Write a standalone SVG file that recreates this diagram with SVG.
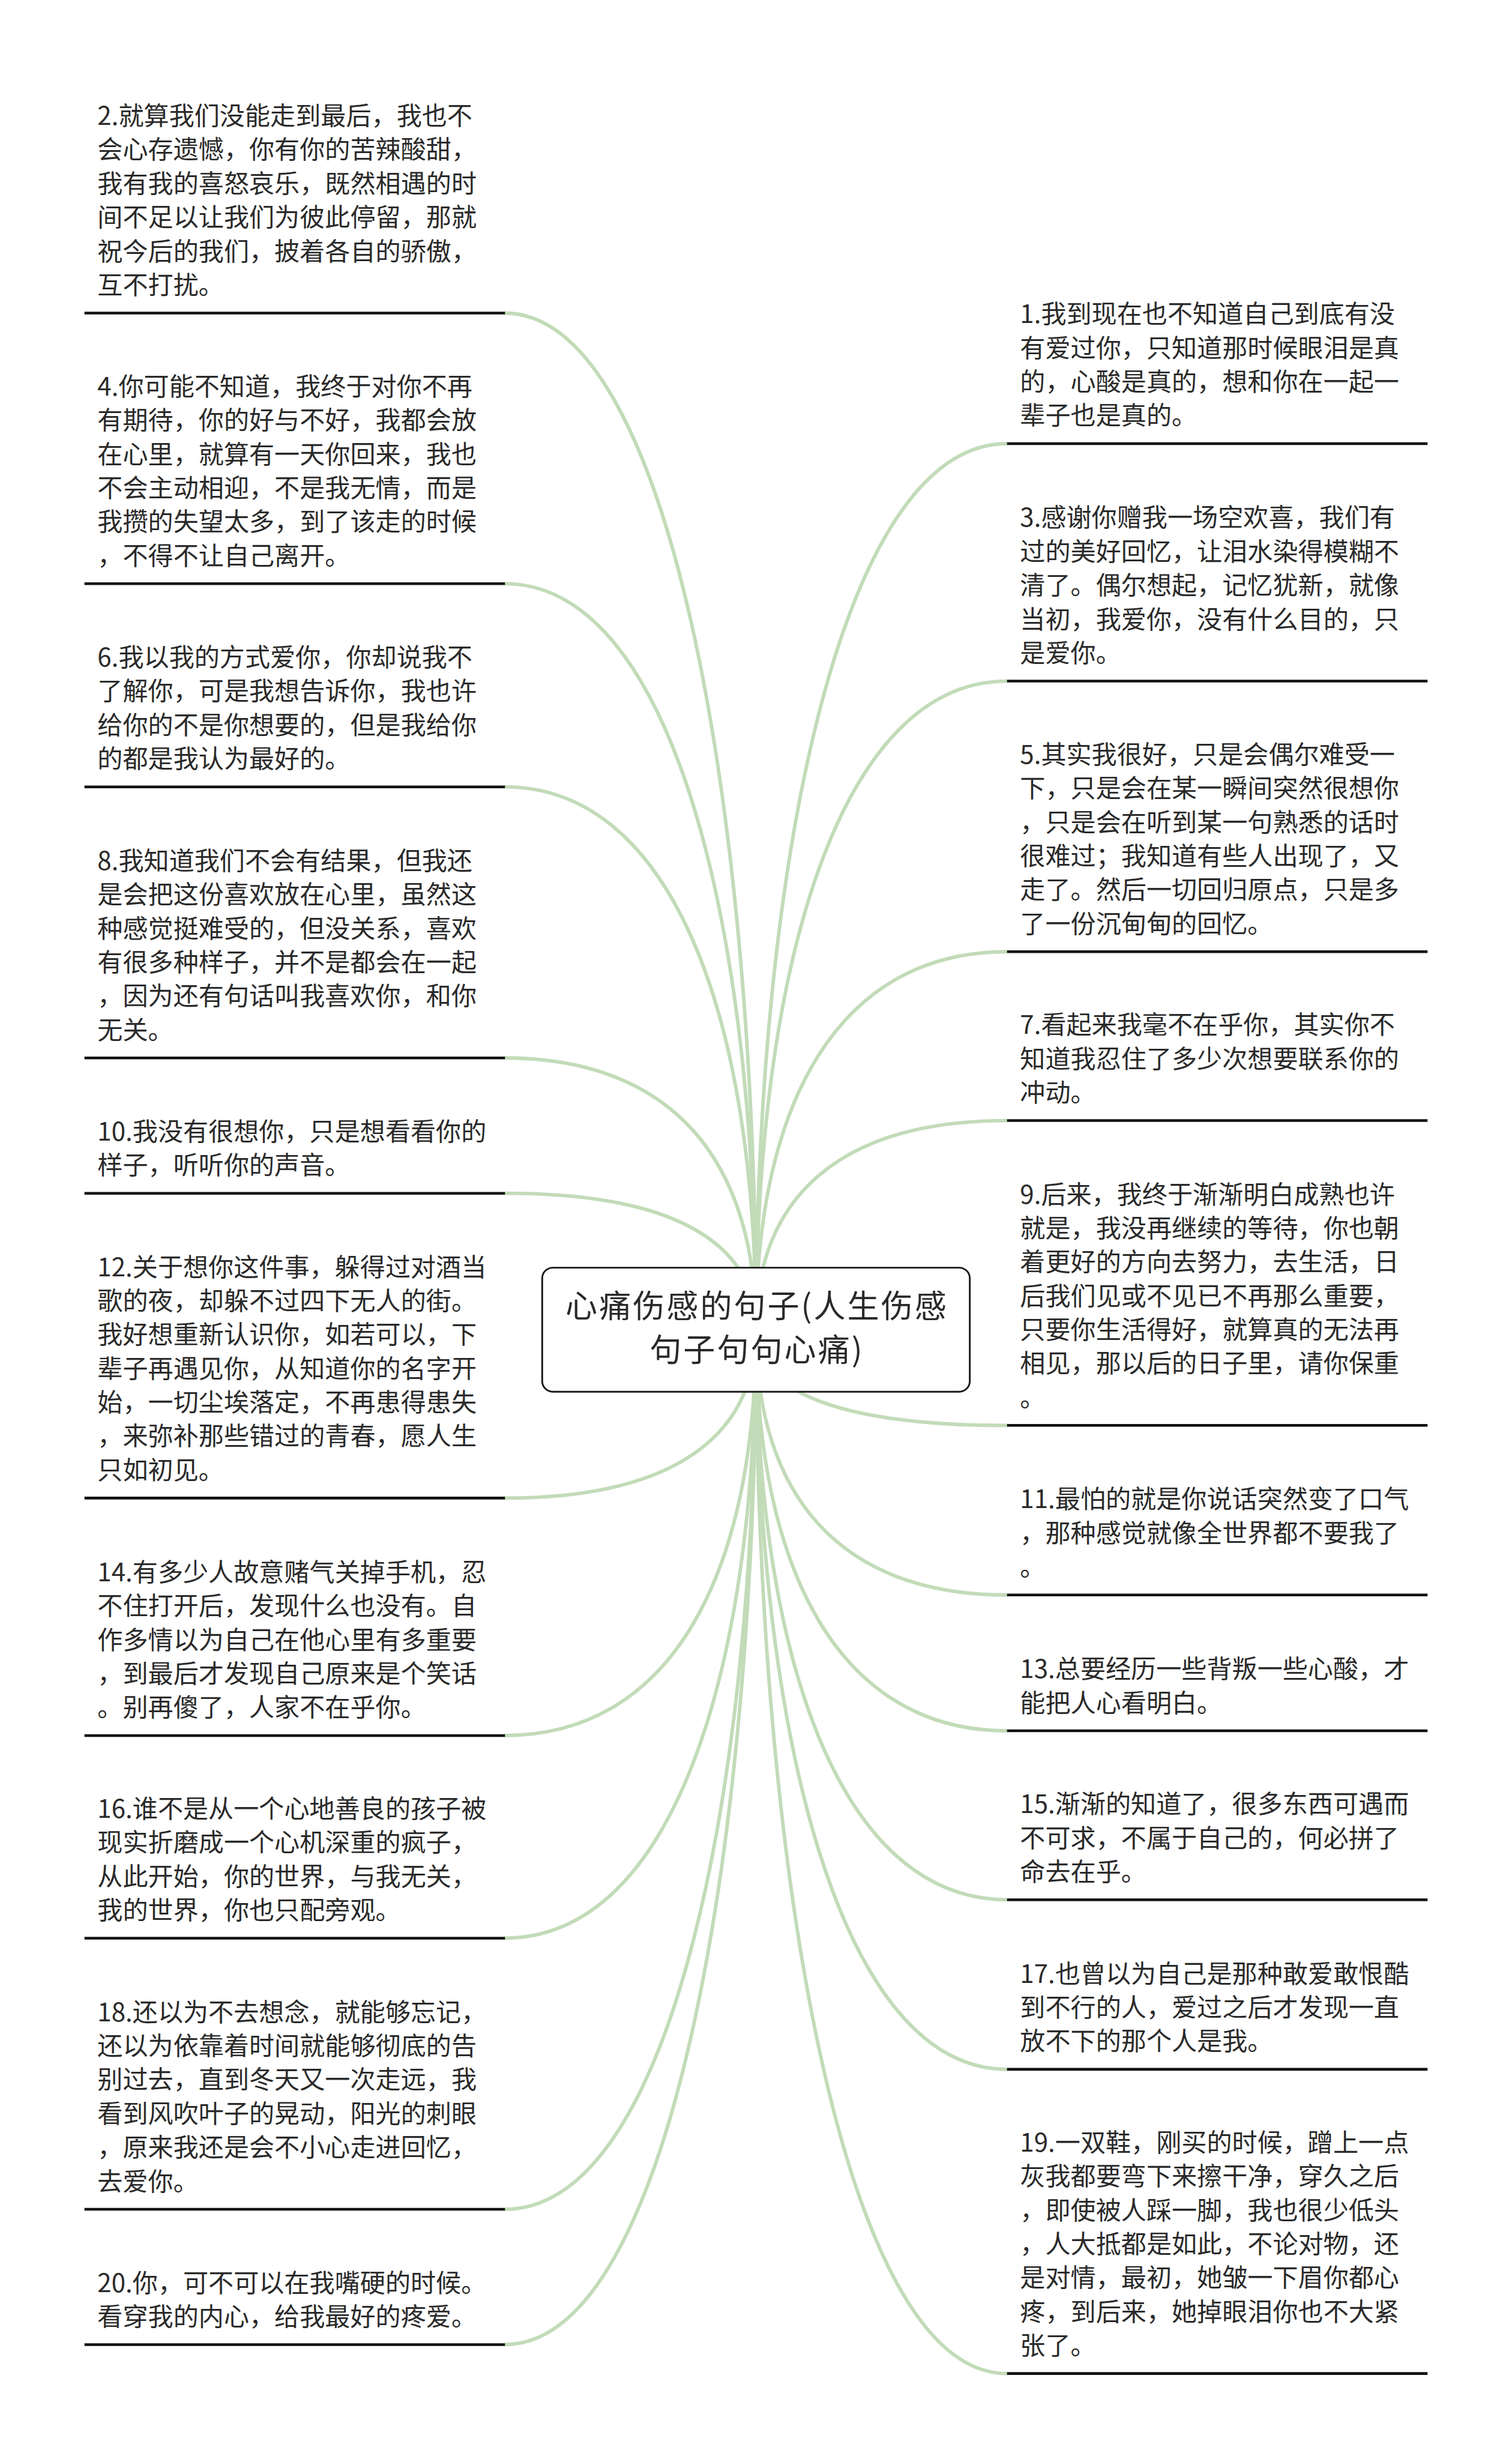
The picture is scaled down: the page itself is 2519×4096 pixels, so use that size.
<svg xmlns="http://www.w3.org/2000/svg" width="2519" height="4096" viewBox="0 0 2519 4096">
<style>
.t{font-family:"Noto Sans CJK SC","Noto Sans",sans-serif;font-size:42.8px;fill:#2a2a2a}
.rt{font-family:"Noto Sans CJK SC","Noto Sans",sans-serif;font-size:54px;letter-spacing:3px;fill:#2a2a2a;text-anchor:middle}
.sep{stroke:#111;stroke-width:4.6;fill:none}
.conn path{stroke:#c2dbb8;stroke-width:6;fill:none;stroke-linecap:butt}
.rootbox{fill:#fff;stroke:#1a1a1a;stroke-width:3}
</style>
<rect x="0" y="0" width="2519" height="4096" fill="#fff"/>
<g transform="scale(0.98398)">
<g id="connectors" class="conn">
<path d="M1280,2251 C1280,1390.5 1138,530 854,530"/>
<path d="M1280,2251 C1280,1565 1138,988 854,988"/>
<path d="M1280,2251 C1280,1721 1138,1332 854,1332"/>
<path d="M1280,2251 C1280,1965 1138,1791 854,1791"/>
<path d="M1280,2251 C1280,2102 1138,2020 854,2020"/>
<path d="M1280,2251 C1280,2433 1138,2536 854,2536"/>
<path d="M1280,2251 C1280,2663 1138,2938 854,2938"/>
<path d="M1280,2251 C1280,2834 1138,3281 854,3281"/>
<path d="M1280,2251 C1280,3027 1138,3740 854,3740"/>
<path d="M1280,2251 C1280,3110 1138,3969 854,3969"/>
<path d="M1280,2251 C1280,1471 1421.7,751 1705,751"/>
<path d="M1280,2251 C1280,1637 1421.7,1153 1705,1153"/>
<path d="M1280,2251 C1280,1864 1421.7,1611 1705,1611"/>
<path d="M1280,2251 C1280,2027 1421.7,1897 1705,1897"/>
<path d="M1280,2251 C1280,2356.5 1421.7,2413 1705,2413"/>
<path d="M1280,2251 C1280,2530.7 1421.7,2700 1705,2700"/>
<path d="M1280,2251 C1280,2658.6 1421.7,2930 1705,2930"/>
<path d="M1280,2251 C1280,2803 1421.7,3216 1705,3216"/>
<path d="M1280,2251 C1280,2932 1421.7,3503 1705,3503"/>
<path d="M1280,2251 C1280,3134.5 1421.7,4018 1705,4018"/>
</g>
<g id="root">
<rect class="rootbox" x="918" y="2146" width="724" height="210" rx="18"/>
<text class="rt" x="1281.5" y="2231"><tspan x="1281.5">心痛伤感的句子(人生伤感</tspan><tspan x="1281.5" dy="74">句子句句心痛)</tspan></text>
</g>
<g id="node-2">
<text class="t" x="165" y="211.5"><tspan x="165">2.就算我们没能走到最后，我也不</tspan><tspan x="165" dy="57.3">会心存遗憾，你有你的苦辣酸甜，</tspan><tspan x="165" dy="57.3">我有我的喜怒哀乐，既然相遇的时</tspan><tspan x="165" dy="57.3">间不足以让我们为彼此停留，那就</tspan><tspan x="165" dy="57.3">祝今后的我们，披着各自的骄傲，</tspan><tspan x="165" dy="57.3">互不打扰。</tspan></text>
<line class="sep" x1="143" y1="530" x2="855" y2="530"/>
</g>
<g id="node-4">
<text class="t" x="165" y="669.5"><tspan x="165">4.你可能不知道，我终于对你不再</tspan><tspan x="165" dy="57.3">有期待，你的好与不好，我都会放</tspan><tspan x="165" dy="57.3">在心里，就算有一天你回来，我也</tspan><tspan x="165" dy="57.3">不会主动相迎，不是我无情，而是</tspan><tspan x="165" dy="57.3">我攒的失望太多，到了该走的时候</tspan><tspan x="165" dy="57.3">，不得不让自己离开。</tspan></text>
<line class="sep" x1="143" y1="988" x2="855" y2="988"/>
</g>
<g id="node-6">
<text class="t" x="165" y="1128.1"><tspan x="165">6.我以我的方式爱你，你却说我不</tspan><tspan x="165" dy="57.3">了解你，可是我想告诉你，我也许</tspan><tspan x="165" dy="57.3">给你的不是你想要的，但是我给你</tspan><tspan x="165" dy="57.3">的都是我认为最好的。</tspan></text>
<line class="sep" x1="143" y1="1332" x2="855" y2="1332"/>
</g>
<g id="node-8">
<text class="t" x="165" y="1472.5"><tspan x="165">8.我知道我们不会有结果，但我还</tspan><tspan x="165" dy="57.3">是会把这份喜欢放在心里，虽然这</tspan><tspan x="165" dy="57.3">种感觉挺难受的，但没关系，喜欢</tspan><tspan x="165" dy="57.3">有很多种样子，并不是都会在一起</tspan><tspan x="165" dy="57.3">，因为还有句话叫我喜欢你，和你</tspan><tspan x="165" dy="57.3">无关。</tspan></text>
<line class="sep" x1="143" y1="1791" x2="855" y2="1791"/>
</g>
<g id="node-10">
<text class="t" x="165" y="1930.7"><tspan x="165">10.我没有很想你，只是想看看你的</tspan><tspan x="165" dy="57.3">样子，听听你的声音。</tspan></text>
<line class="sep" x1="143" y1="2020" x2="855" y2="2020"/>
</g>
<g id="node-12">
<text class="t" x="165" y="2160.2"><tspan x="165">12.关于想你这件事，躲得过对酒当</tspan><tspan x="165" dy="57.3">歌的夜，却躲不过四下无人的街。</tspan><tspan x="165" dy="57.3">我好想重新认识你，如若可以，下</tspan><tspan x="165" dy="57.3">辈子再遇见你，从知道你的名字开</tspan><tspan x="165" dy="57.3">始，一切尘埃落定，不再患得患失</tspan><tspan x="165" dy="57.3">，来弥补那些错过的青春，愿人生</tspan><tspan x="165" dy="57.3">只如初见。</tspan></text>
<line class="sep" x1="143" y1="2536" x2="855" y2="2536"/>
</g>
<g id="node-14">
<text class="t" x="165" y="2676.8"><tspan x="165">14.有多少人故意赌气关掉手机，忍</tspan><tspan x="165" dy="57.3">不住打开后，发现什么也没有。自</tspan><tspan x="165" dy="57.3">作多情以为自己在他心里有多重要</tspan><tspan x="165" dy="57.3">，到最后才发现自己原来是个笑话</tspan><tspan x="165" dy="57.3">。别再傻了，人家不在乎你。</tspan></text>
<line class="sep" x1="143" y1="2938" x2="855" y2="2938"/>
</g>
<g id="node-16">
<text class="t" x="165" y="3077.1"><tspan x="165">16.谁不是从一个心地善良的孩子被</tspan><tspan x="165" dy="57.3">现实折磨成一个心机深重的疯子，</tspan><tspan x="165" dy="57.3">从此开始，你的世界，与我无关，</tspan><tspan x="165" dy="57.3">我的世界，你也只配旁观。</tspan></text>
<line class="sep" x1="143" y1="3281" x2="855" y2="3281"/>
</g>
<g id="node-18">
<text class="t" x="165" y="3421.5"><tspan x="165">18.还以为不去想念，就能够忘记，</tspan><tspan x="165" dy="57.3">还以为依靠着时间就能够彻底的告</tspan><tspan x="165" dy="57.3">别过去，直到冬天又一次走远，我</tspan><tspan x="165" dy="57.3">看到风吹叶子的晃动，阳光的刺眼</tspan><tspan x="165" dy="57.3">，原来我还是会不小心走进回忆，</tspan><tspan x="165" dy="57.3">去爱你。</tspan></text>
<line class="sep" x1="143" y1="3740" x2="855" y2="3740"/>
</g>
<g id="node-20">
<text class="t" x="165" y="3879.7"><tspan x="165">20.你，可不可以在我嘴硬的时候。</tspan><tspan x="165" dy="57.3">看穿我的内心，给我最好的疼爱。</tspan></text>
<line class="sep" x1="143" y1="3969" x2="855" y2="3969"/>
</g>
<g id="node-1">
<text class="t" x="1727" y="547.1"><tspan x="1727">1.我到现在也不知道自己到底有没</tspan><tspan x="1727" dy="57.3">有爱过你，只知道那时候眼泪是真</tspan><tspan x="1727" dy="57.3">的，心酸是真的，想和你在一起一</tspan><tspan x="1727" dy="57.3">辈子也是真的。</tspan></text>
<line class="sep" x1="1705" y1="751" x2="2417" y2="751"/>
</g>
<g id="node-3">
<text class="t" x="1727" y="891.8"><tspan x="1727">3.感谢你赠我一场空欢喜，我们有</tspan><tspan x="1727" dy="57.3">过的美好回忆，让泪水染得模糊不</tspan><tspan x="1727" dy="57.3">清了。偶尔想起，记忆犹新，就像</tspan><tspan x="1727" dy="57.3">当初，我爱你，没有什么目的，只</tspan><tspan x="1727" dy="57.3">是爱你。</tspan></text>
<line class="sep" x1="1705" y1="1153" x2="2417" y2="1153"/>
</g>
<g id="node-5">
<text class="t" x="1727" y="1292.5"><tspan x="1727">5.其实我很好，只是会偶尔难受一</tspan><tspan x="1727" dy="57.3">下，只是会在某一瞬间突然很想你</tspan><tspan x="1727" dy="57.3">，只是会在听到某一句熟悉的话时</tspan><tspan x="1727" dy="57.3">很难过；我知道有些人出现了，又</tspan><tspan x="1727" dy="57.3">走了。然后一切回归原点，只是多</tspan><tspan x="1727" dy="57.3">了一份沉甸甸的回忆。</tspan></text>
<line class="sep" x1="1705" y1="1611" x2="2417" y2="1611"/>
</g>
<g id="node-7">
<text class="t" x="1727" y="1750.4"><tspan x="1727">7.看起来我毫不在乎你，其实你不</tspan><tspan x="1727" dy="57.3">知道我忍住了多少次想要联系你的</tspan><tspan x="1727" dy="57.3">冲动。</tspan></text>
<line class="sep" x1="1705" y1="1897" x2="2417" y2="1897"/>
</g>
<g id="node-9">
<text class="t" x="1727" y="2037.2"><tspan x="1727">9.后来，我终于渐渐明白成熟也许</tspan><tspan x="1727" dy="57.3">就是，我没再继续的等待，你也朝</tspan><tspan x="1727" dy="57.3">着更好的方向去努力，去生活，日</tspan><tspan x="1727" dy="57.3">后我们见或不见已不再那么重要，</tspan><tspan x="1727" dy="57.3">只要你生活得好，就算真的无法再</tspan><tspan x="1727" dy="57.3">相见，那以后的日子里，请你保重</tspan><tspan x="1727" dy="57.3">。</tspan></text>
<line class="sep" x1="1705" y1="2413" x2="2417" y2="2413"/>
</g>
<g id="node-11">
<text class="t" x="1727" y="2553.4"><tspan x="1727">11.最怕的就是你说话突然变了口气</tspan><tspan x="1727" dy="57.3">，那种感觉就像全世界都不要我了</tspan><tspan x="1727" dy="57.3">。</tspan></text>
<line class="sep" x1="1705" y1="2700" x2="2417" y2="2700"/>
</g>
<g id="node-13">
<text class="t" x="1727" y="2840.7"><tspan x="1727">13.总要经历一些背叛一些心酸，才</tspan><tspan x="1727" dy="57.3">能把人心看明白。</tspan></text>
<line class="sep" x1="1705" y1="2930" x2="2417" y2="2930"/>
</g>
<g id="node-15">
<text class="t" x="1727" y="3069.4"><tspan x="1727">15.渐渐的知道了，很多东西可遇而</tspan><tspan x="1727" dy="57.3">不可求，不属于自己的，何必拼了</tspan><tspan x="1727" dy="57.3">命去在乎。</tspan></text>
<line class="sep" x1="1705" y1="3216" x2="2417" y2="3216"/>
</g>
<g id="node-17">
<text class="t" x="1727" y="3356.4"><tspan x="1727">17.也曾以为自己是那种敢爱敢恨酷</tspan><tspan x="1727" dy="57.3">到不行的人，爱过之后才发现一直</tspan><tspan x="1727" dy="57.3">放不下的那个人是我。</tspan></text>
<line class="sep" x1="1705" y1="3503" x2="2417" y2="3503"/>
</g>
<g id="node-19">
<text class="t" x="1727" y="3642.2"><tspan x="1727">19.一双鞋，刚买的时候，蹭上一点</tspan><tspan x="1727" dy="57.3">灰我都要弯下来擦干净，穿久之后</tspan><tspan x="1727" dy="57.3">，即使被人踩一脚，我也很少低头</tspan><tspan x="1727" dy="57.3">，人大抵都是如此，不论对物，还</tspan><tspan x="1727" dy="57.3">是对情，最初，她皱一下眉你都心</tspan><tspan x="1727" dy="57.3">疼，到后来，她掉眼泪你也不大紧</tspan><tspan x="1727" dy="57.3">张了。</tspan></text>
<line class="sep" x1="1705" y1="4018" x2="2417" y2="4018"/>
</g>
</g>
</svg>
